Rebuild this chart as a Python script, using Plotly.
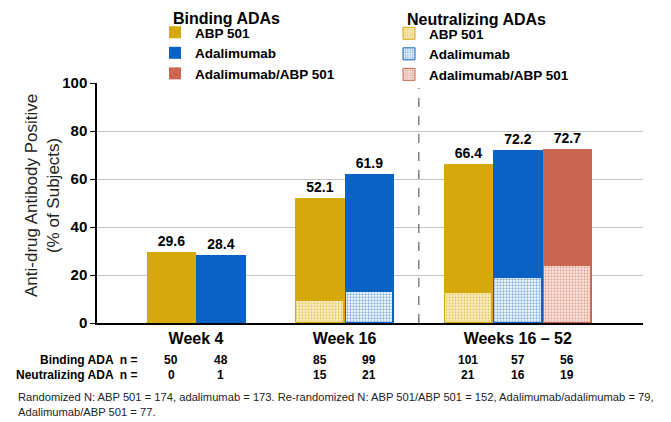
import plotly.graph_objects as go

# ---------------- data ----------------
groups = ["Week 4", "Week 16", "Weeks 16 – 52"]
series_names = ["ABP 501", "Adalimumab", "Adalimumab/ABP 501"]
binding_abp = [29.6, 52.1, 66.4]
binding_adal = [28.4, 61.9, 72.2]
binding_adal_abp = [None, None, 72.7]
neut_abp = [0.0, 9.3, 12.5]
neut_adal = [0.6, 12.9, 18.8]
neut_adal_abp = [None, None, 23.7]
binding_n = [[50, 48], [85, 99], [101, 57, 56]]
neut_n = [[0, 1], [15, 21], [21, 16, 19]]
legend_titles = ["Binding ADAs", "Neutralizing ADAs"]
row_labels = ["Binding ADA  n =", "Neutralizing ADA  n ="]
y_title = "Anti-drug Antibody Positive<br>(% of Subjects)"
footnote = ("Randomized N: ABP 501 = 174, adalimumab = 173. Re-randomized N: ABP 501/ABP 501 = 152, "
            "Adalimumab/adalimumab = 79,<br>Adalimumab/ABP 501 = 77.")

# ---------------- layout constants ----------------
# the page body has an 8px margin, so the figure is drawn 8px in from the window edge
OFF = 8
W, H = 671 - OFF, 422 - OFF
ML, MT = 97 - OFF, 83 - OFF          # plot area: window x 97..643, y 83..323
MR, MB = W - (643 - OFF), H - (323 - OFF)
PW, PH = W - ML - MR, H - MT - MB
group_centers = [2.0, 5.0, 8.5]
bar_w = 1.0
x_range = [0, 11.03]
divider_x = 6.5

col_gold = "#D5A80C"
col_blue = "#0A63C4"
col_red = "#CB6650"
tint_gold = "#FBF0CC"
tint_blue = "#FFFFFF"
tint_red = "#FBEAE5"

FONT = "Liberation Sans, Arial, sans-serif"


def px_x(p):
    """window pixel x -> paper coordinate"""
    return (p - OFF - ML) / PW


def px_y(p):
    """window pixel y -> paper coordinate"""
    return (H - MB - (p - OFF)) / PH


def positions(slot, values):
    xs, ys = [], []
    for g, v in enumerate(values):
        if v is None:
            continue
        n = len(binding_n[g])
        xs.append(group_centers[g] + (slot - (n - 1) / 2) * bar_w)
        ys.append(v)
    return xs, ys


fig = go.Figure()

binding = [binding_abp, binding_adal, binding_adal_abp]
neutral = [neut_abp, neut_adal, neut_adal_abp]
solid = [col_gold, col_blue, col_red]
tints = [tint_gold, tint_blue, tint_red]

for i, name in enumerate(series_names):
    xs, ys = positions(i, binding[i])
    fig.add_trace(go.Bar(
        x=xs, y=ys, width=bar_w, name=name, legend="legend",
        marker=dict(color=solid[i], line=dict(width=0)),
        texttemplate="%{y:.1f}", textposition="outside",
        textfont=dict(family=FONT, size=14, color="black", weight="bold"),
        cliponaxis=False, hoverinfo="skip",
    ))

for i, name in enumerate(series_names):
    xs, ys = positions(i, neutral[i])
    fig.add_trace(go.Bar(
        x=xs, y=ys, width=bar_w * 0.96, name=name, legend="legend2",
        marker=dict(color=tints[i], line=dict(width=1, color=solid[i]),
                    pattern=dict(shape=".", fgcolor=solid[i], fillmode="overlay",
                                 size=3, solidity=0.45)),
        hoverinfo="skip",
    ))

annotations = []
# legend titles
annotations.append(dict(text=legend_titles[0], xref="paper", yref="paper", x=px_x(171), y=px_y(18.5),
                        xanchor="left", yanchor="middle", showarrow=False,
                        font=dict(family=FONT, size=16, weight="bold", color="black")))
annotations.append(dict(text=legend_titles[1], xref="paper", yref="paper", x=px_x(405), y=px_y(19),
                        xanchor="left", yanchor="middle", showarrow=False,
                        font=dict(family=FONT, size=16, weight="bold", color="black")))

# n table
row_y = [360, 375]
for r, table in enumerate([binding_n, neut_n]):
    yp = px_y(row_y[r])
    annotations.append(dict(text=row_labels[r], xref="paper", yref="paper",
                            x=px_x(139), y=yp, xanchor="right", yanchor="middle",
                            showarrow=False, font=dict(family=FONT, size=12, color="black", weight="bold")))
    for g, vals in enumerate(table):
        n = len(vals)
        for s, v in enumerate(vals):
            annotations.append(dict(text=str(v), xref="x", yref="paper",
                                    x=group_centers[g] + (s - (n - 1) / 2) * bar_w, y=yp,
                                    xanchor="center", yanchor="middle", showarrow=False,
                                    font=dict(family=FONT, size=12, color="black", weight="bold")))

annotations.append(dict(text=footnote, xref="paper", yref="paper",
                        x=px_x(16), y=px_y(389),
                        xanchor="left", yanchor="top", align="left", showarrow=False,
                        font=dict(family=FONT, size=11.2, color="#222222")))

annotations.append(dict(text=y_title, xref="paper", yref="paper",
                        x=px_x(42), y=px_y(196), textangle=-90,
                        xanchor="center", yanchor="middle", showarrow=False,
                        font=dict(family=FONT, size=17, color="#222222")))

fig.update_layout(
    width=W, height=H,
    margin=dict(l=ML, r=MR, t=MT, b=MB, autoexpand=False),
    paper_bgcolor="white", plot_bgcolor="white",
    barmode="overlay",
    bargap=0,
    font=dict(family=FONT, color="black"),
    xaxis=dict(range=x_range, tickmode="array", tickvals=group_centers, ticktext=groups,
               tickfont=dict(family=FONT, size=16, color="black", weight="bold"),
               showgrid=False, zeroline=False, showline=True, linecolor="black", linewidth=2,
               ticks="", fixedrange=True),
    yaxis=dict(range=[0, 100], tickvals=[0, 20, 40, 60, 80, 100],
               tickfont=dict(family=FONT, size=15, color="black", weight="bold"),
               showgrid=True, gridcolor="#C4C4C4", gridwidth=1,
               zeroline=False, showline=True, linecolor="black", linewidth=1.5,
               ticks="outside", ticklen=5, tickcolor="black", fixedrange=True),
    legend=dict(x=px_x(155), y=px_y(17), xanchor="left", yanchor="top",
                font=dict(family=FONT, size=13.5, weight="bold", color="black"),
                bgcolor="rgba(0,0,0,0)", traceorder="normal", tracegroupgap=0),
    legend2=dict(x=px_x(389), y=px_y(18), xanchor="left", yanchor="top",
                 font=dict(family=FONT, size=13.5, weight="bold", color="black"),
                 bgcolor="rgba(0,0,0,0)", traceorder="normal", tracegroupgap=0),
    shapes=[dict(type="line", xref="x", yref="paper", x0=divider_x, x1=divider_x, y0=0, y1=px_y(88),
                 line=dict(color="#808080", width=1.5, dash="dash"))],
    annotations=annotations,
    showlegend=True,
)

fig.write_html("out.html")
